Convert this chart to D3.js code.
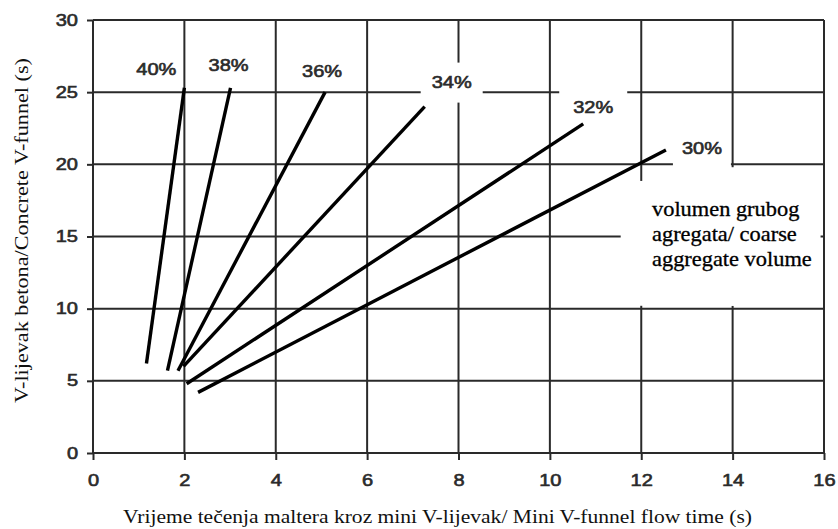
<!DOCTYPE html>
<html>
<head>
<meta charset="utf-8">
<script src="https://cdn.jsdelivr.net/npm/d3@7"></script>
<style>
  html, body { margin: 0; padding: 0; background: #fff; }
  svg { display: block; }
</style>
</head>
<body>
<svg id="chart" width="838" height="529"></svg>
<script>
// Coarse aggregate volume series: each is a straight line between two points
const seriesNames = ["40%", "38%", "36%", "34%", "32%", "30%"];
const xStart = [1.17, 1.63, 1.86, 1.98, 2.05, 2.30];
const yStart = [6.2, 5.7, 5.7, 6.0, 4.8, 4.2];
const xEnd   = [2.00, 3.01, 5.08, 7.26, 10.73, 12.54];
const yEnd   = [25.3, 25.3, 25.0, 24.0, 22.8, 21.0];

const xTicks = [0, 2, 4, 6, 8, 10, 12, 14, 16];
const yTicks = [0, 5, 10, 15, 20, 25, 30];

const xTitle = "Vrijeme tečenja maltera kroz mini V-lijevak/ Mini V-funnel flow time (s)";
const yTitle = "V-lijevak betona/Concrete V-funnel (s)";
const noteLines = ["volumen grubog", "agregata/ coarse", "aggregate volume"];

// Label placement relative to each line's upper end (pixels), and whether
// the label sits on a white patch that breaks the grid
const labelDx = [-28, -2, -3, 27, 10, 36];
const labelDy = [-19, -23, -21, -24, -17, -2];
const labelPatchW = [0, 0, 0, 62, 68, 58];

const svg = d3.select("#chart");
const x = d3.scaleLinear().domain([0, 16]).range([93, 824]);
const y = d3.scaleLinear().domain([0, 30]).range([453, 20]);

const sansStretch = "scale(1.25,1)";
const gridColor = "#2a2a2a";
const labelColor = "#2b2b2b";

// Grid
const grid = svg.append("g");
grid.selectAll("line.v").data(xTicks).join("line")
  .attr("x1", d => x(d)).attr("x2", d => x(d))
  .attr("y1", y(0)).attr("y2", y(30))
  .attr("stroke", gridColor).attr("stroke-width", 2);
grid.selectAll("line.h").data(yTicks).join("line")
  .attr("x1", x(0)).attr("x2", x(16))
  .attr("y1", d => y(d)).attr("y2", d => y(d))
  .attr("stroke", gridColor).attr("stroke-width", 2);

// Axes (ticks outside the plot + labels)
const xAxis = svg.append("g").attr("transform", `translate(0,${y(0)})`)
  .call(d3.axisBottom(x).tickValues(xTicks).tickSize(7).tickPadding(15).tickFormat(d3.format("d")));
const yAxis = svg.append("g").attr("transform", `translate(${x(0)},0)`)
  .call(d3.axisLeft(y).tickValues(yTicks).tickSize(6).tickPadding(6).tickFormat(d3.format("d")));
[xAxis, yAxis].forEach(a => {
  a.select(".domain").remove();
  a.selectAll(".tick line").attr("stroke", gridColor).attr("stroke-width", 2);
  a.selectAll(".tick text")
    .attr("font-family", "Liberation Sans, Arial, sans-serif")
    .attr("font-size", 16)
    .attr("fill", labelColor)
    .attr("stroke", labelColor).attr("stroke-width", 0.6)
    .attr("transform", sansStretch);
});

// White patches behind the note text
const patches = svg.append("g");
patches.append("rect")
  .attr("x", x(11.55)).attr("y", y(18.85))
  .attr("width", x(15.92) - x(11.55)).attr("height", y(10.2) - y(18.85))
  .attr("fill", "#fff");
patches.append("rect")
  .attr("x", x(13.2)).attr("y", y(19.8))
  .attr("width", x(15.92) - x(13.2)).attr("height", y(10.2) - y(19.8))
  .attr("fill", "#fff");

const series = seriesNames.map((name, i) => ({
  name,
  pts: [[xStart[i], yStart[i]], [xEnd[i], yEnd[i]]],
  lx: x(xEnd[i]) + labelDx[i],
  ly: y(yEnd[i]) + labelDy[i],
  patch: labelPatchW[i]
}));

// White patches behind some labels
patches.selectAll("rect.lp").data(series.filter(s => s.patch > 0)).join("rect")
  .attr("class", "lp")
  .attr("x", d => d.lx - d.patch / 2).attr("y", d => d.ly - 20)
  .attr("width", d => d.patch).attr("height", 40)
  .attr("fill", "#fff");

// Series lines
const line = d3.line().x(d => x(d[0])).y(d => y(d[1]));
svg.append("g").selectAll("path").data(series).join("path")
  .attr("d", d => line(d.pts))
  .attr("fill", "none").attr("stroke", "#000").attr("stroke-width", 3.4)
  .attr("stroke-linecap", "butt");

// Series labels
svg.append("g").selectAll("text").data(series).join("text")
  .attr("transform", d => `translate(${d.lx},${d.ly}) ${sansStretch}`)
  .attr("text-anchor", "middle").attr("dy", "0.36em")
  .attr("font-family", "Liberation Sans, Arial, sans-serif")
  .attr("font-size", 16).attr("fill", labelColor)
  .attr("stroke", labelColor).attr("stroke-width", 0.6)
  .text(d => d.name);

// Note text
svg.append("g").selectAll("text").data(noteLines).join("text")
  .attr("transform", (d, i) => `translate(652,${216 + i * 25}) scale(1.12,1)`)
  .attr("font-family", "Liberation Serif, Times New Roman, serif")
  .attr("font-size", 20).attr("fill", "#000")
  .attr("stroke", "#000").attr("stroke-width", 0.3)
  .text(d => d);

// Axis titles
svg.append("text")
  .attr("x", 437.5).attr("y", 523)
  .attr("text-anchor", "middle")
  .attr("font-family", "Liberation Serif, Times New Roman, serif")
  .attr("font-size", 18).attr("fill", "#111")
  .attr("textLength", 629).attr("lengthAdjust", "spacingAndGlyphs")
  .text(xTitle);
svg.append("text")
  .attr("transform", "translate(28,230.5) rotate(-90)")
  .attr("text-anchor", "middle")
  .attr("font-family", "Liberation Serif, Times New Roman, serif")
  .attr("font-size", 18).attr("fill", "#111")
  .attr("textLength", 345).attr("lengthAdjust", "spacingAndGlyphs")
  .text(yTitle);
</script>
</body>
</html>
